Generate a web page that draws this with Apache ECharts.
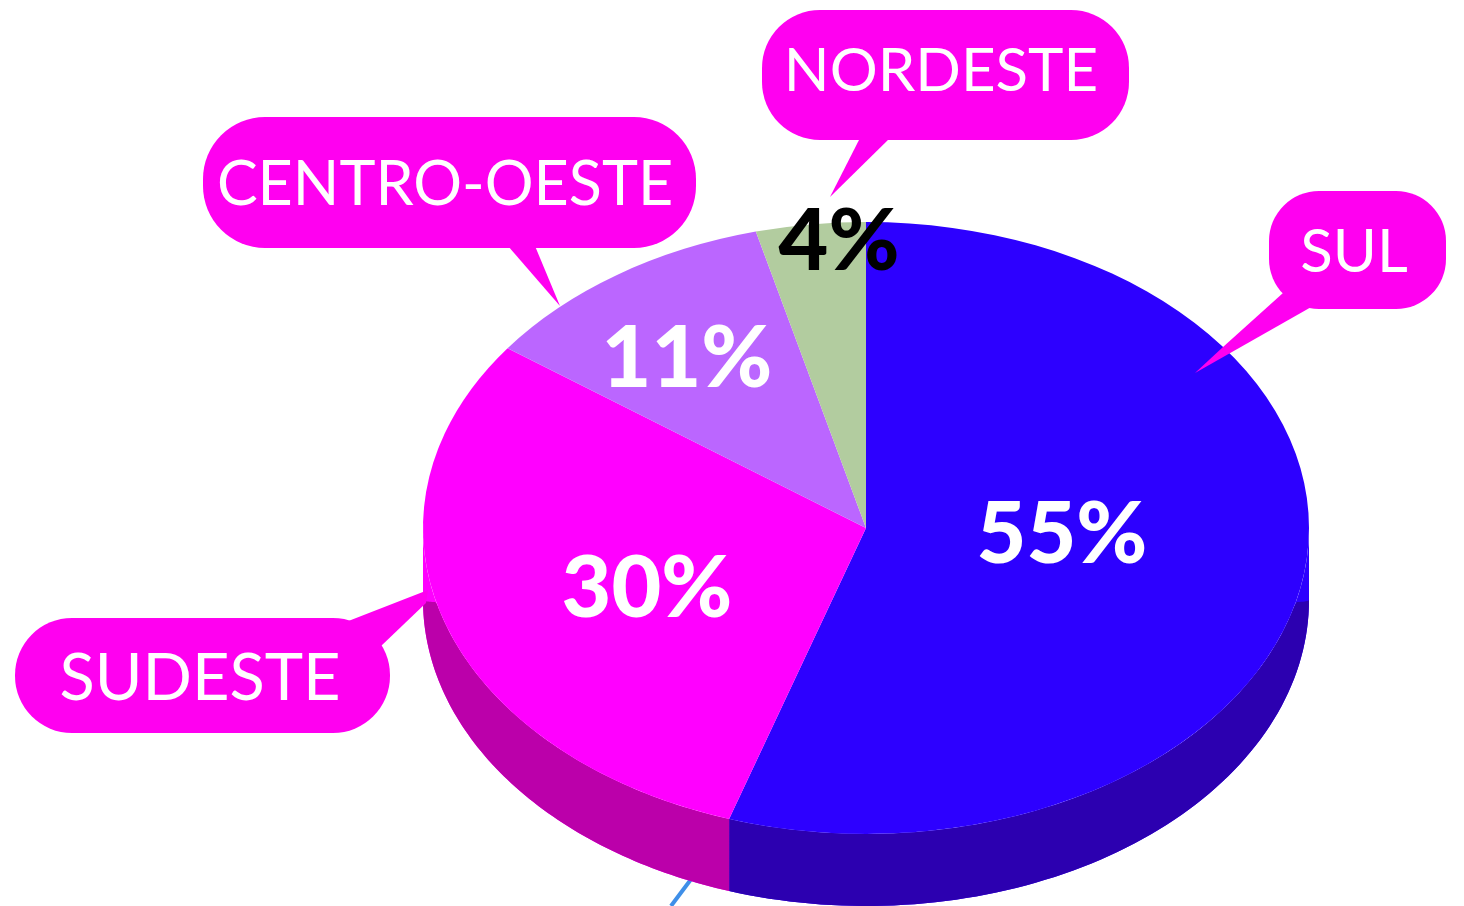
<!DOCTYPE html>
<html>
<head>
<meta charset="utf-8">
<title>Regiões</title>
<script src="https://cdn.jsdelivr.net/npm/echarts@6/dist/echarts.min.js"></script>
<style>
html,body{margin:0;padding:0;background:#fff}
#main{width:1464px;height:906px}
</style>
</head>
<body>
<div id="main"></div>
<script>
// dados
var regioes = ['SUL', 'SUDESTE', 'CENTRO-OESTE', 'NORDESTE'];
var percentuais = [55, 30, 11, 4];

// estilo / layout
var coresTopo = ['#2d00ff', '#ff00ff', '#bb66ff', '#b2cc9f'];
var coresLado = ['#2c00b0', '#bb00aa', '#8a44c0', '#86a078'];
var coresTexto = ['#fff', '#fff', '#fff', '#000'];
var posTexto = [[1062, 535], [647, 589], [687, 359], [839, 242]];
var cx = 866, cy = 528, rx = 443, ry = 306, prof = 72;
var rosa = '#ff00f0';
var fonte = 'Lato, "Open Sans", sans-serif';

var total = percentuais.reduce(function (a, b) { return a + b; }, 0);
function inicio(idx) {
	var s = 0;
	for (var i = 0; i < idx; i++) s += percentuais[i];
	return s;
}

// parede lateral: so a metade da frente (90 a 270 graus a partir do topo)
// afina: a parte escura some perto das pontas, como no desenho original
function ladoPontos(t0, t1, afina) {
	var a = Math.max(t0, 90), b = Math.min(t1, 270);
	if (a >= b) return null;
	var cima = [], baixo = [];
	for (var t = a; t <= b + 0.001; t += (b - a) / 80) {
		var r = t * Math.PI / 180;
		var x = cx + rx * Math.sin(r), y = cy - ry * Math.cos(r);
		var w = afina ? Math.min(1, Math.min(t - 90, 270 - t) / 14) : 1;
		cima.push([x, y + prof * (1 - w)]);
		baixo.unshift([x, y + prof]);
	}
	return cima.concat(baixo);
}

function fatia(params, api) {
	var i = params.dataIndex;
	var t0 = inicio(i) / total * 360;
	var t1 = t0 + api.value(0) / total * 360;
	var filhos = [];
	var base = ladoPontos(t0, t1, false);
	if (base) {
		filhos.push({ type: 'polygon', shape: { points: base }, style: { fill: coresTopo[i] } });
		filhos.push({ type: 'polygon', shape: { points: ladoPontos(t0, t1, true) }, style: { fill: coresLado[i] } });
	}
	filhos.push({
		type: 'sector',
		x: cx, y: cy, scaleY: ry / rx,
		shape: {
			cx: 0, cy: 0, r0: 0, r: rx,
			startAngle: (t0 - 90) * Math.PI / 180,
			endAngle: (t1 - 90) * Math.PI / 180,
			clockwise: true
		},
		style: { fill: coresTopo[i] }
	});
	return { type: 'group', children: filhos };
}

function rotuloPct(params, api) {
	var i = params.dataIndex;
	return {
		type: 'text',
		style: {
			text: api.value(0) + '%',
			x: posTexto[i][0], y: posTexto[i][1],
			align: 'center', verticalAlign: 'middle',
			fill: coresTexto[i],
			font: '900 86px ' + fonte
		}
	};
}

function balao(nome, x, y, w, h, r, cauda, tx, ty, tam) {
	return [
		{ type: 'polygon', z: 20, shape: { points: cauda }, style: { fill: rosa } },
		{ type: 'rect', z: 20, shape: { x: x, y: y, width: w, height: h, r: r }, style: { fill: rosa } },
		{ type: 'text', z: 21, style: { text: nome, x: tx, y: ty, align: 'center', verticalAlign: 'middle', fill: '#fff', font: '400 ' + tam + 'px ' + fonte } }
	];
}

var baloes = []
	.concat(balao(regioes[0], 1269, 191, 177, 118, 50, [[1283, 293], [1223, 347], [1195, 373], [1232, 352], [1313, 306]], 1354, 253, 60))
	.concat(balao(regioes[1], 15, 618, 375, 115, 57, [[333, 627], [428, 590], [426, 603], [380, 647], [350, 660]], 200, 679, 65))
	.concat(balao(regioes[2], 203, 117, 493, 131, 62, [[508, 246], [535, 246], [560, 306]], 445, 185, 61))
	.concat(balao(regioes[3], 762, 10, 367, 130, 58, [[860, 138], [890, 138], [830, 197]], 941, 72, 60));

var myChart = echarts.init(document.getElementById('main'), null, { renderer: 'canvas' });
myChart.setOption({
	backgroundColor: '#fff',
	animation: false,
	tooltip: { show: false },
	graphic: baloes.concat([
		{ type: 'line', z: 0, shape: { x1: 692, y1: 878, x2: 671, y2: 906 }, style: { stroke: '#3f8fe8', lineWidth: 4 } }
	]),
	series: [
		{
			type: 'custom',
			coordinateSystem: 'none',
			z: 5,
			silent: true,
			renderItem: fatia,
			data: percentuais
		},
		{
			type: 'custom',
			coordinateSystem: 'none',
			z: 30,
			silent: true,
			renderItem: rotuloPct,
			data: percentuais
		}
	]
});
</script>
</body>
</html>
